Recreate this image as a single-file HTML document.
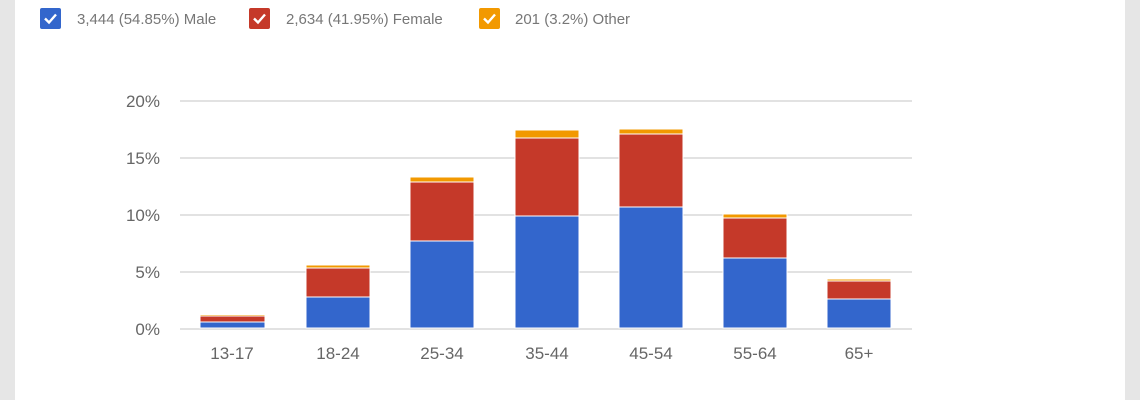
<!DOCTYPE html>
<html><head><style>
body{margin:0;width:1140px;height:400px;overflow:hidden;background:#fff;font-family:"Liberation Sans",sans-serif}
</style></head><body>
<svg width="1140" height="400" xmlns="http://www.w3.org/2000/svg" font-family="Liberation Sans, sans-serif">
<rect x="0" y="0" width="15" height="400" fill="#e6e6e6"/>
<rect x="1125" y="0" width="15" height="400" fill="#e6e6e6"/>
<g font-size="15" fill="#777">
<rect x="40" y="8" width="21" height="21" rx="2" fill="#3366cc"/>
<path d="M45 18.5l4 4 7-8" stroke="#fff" stroke-width="2.4" fill="none"/>
<text x="77" y="24">3,444 (54.85%) Male</text>
<rect x="249" y="8" width="21" height="21" rx="2" fill="#c53929"/>
<path d="M254 18.5l4 4 7-8" stroke="#fff" stroke-width="2.4" fill="none"/>
<text x="286" y="24">2,634 (41.95%) Female</text>
<rect x="479" y="8" width="21" height="21" rx="2" fill="#f29900"/>
<path d="M484 18.5l4 4 7-8" stroke="#fff" stroke-width="2.4" fill="none"/>
<text x="515" y="24">201 (3.2%) Other</text>
</g>
<g stroke="#d9d9d9" stroke-width="1.5">
<line x1="180" x2="912" y1="101" y2="101"/>
<line x1="180" x2="912" y1="158" y2="158"/>
<line x1="180" x2="912" y1="215" y2="215"/>
<line x1="180" x2="912" y1="272" y2="272"/>
<line x1="180" x2="912" y1="329" y2="329"/>
</g>
<g font-size="17" fill="#666" text-anchor="end">
<text x="160" y="107">20%</text><text x="160" y="164">15%</text><text x="160" y="221">10%</text><text x="160" y="278">5%</text><text x="160" y="335">0%</text>
</g>
<g stroke="#fff" stroke-width="1">
<!-- x, blueTop, redTop, orangeTop -->
<rect x="200" y="322" width="65" height="6" fill="#3366cc"/><rect x="200" y="316" width="65" height="6" fill="#c53929"/><rect x="200" y="314.5" width="65" height="1.5" fill="#f29900"/>
<rect x="306" y="297" width="64" height="31" fill="#3366cc"/><rect x="306" y="268" width="64" height="29" fill="#c53929"/><rect x="306" y="265" width="64" height="3" fill="#f29900"/>
<rect x="410" y="241" width="64" height="87" fill="#3366cc"/><rect x="410" y="182" width="64" height="59" fill="#c53929"/><rect x="410" y="177" width="64" height="5" fill="#f29900"/>
<rect x="515" y="216" width="64" height="112" fill="#3366cc"/><rect x="515" y="138" width="64" height="78" fill="#c53929"/><rect x="515" y="130" width="64" height="8" fill="#f29900"/>
<rect x="619" y="207" width="64" height="121" fill="#3366cc"/><rect x="619" y="134" width="64" height="73" fill="#c53929"/><rect x="619" y="129" width="64" height="5" fill="#f29900"/>
<rect x="723" y="258" width="64" height="70" fill="#3366cc"/><rect x="723" y="218" width="64" height="40" fill="#c53929"/><rect x="723" y="214" width="64" height="4" fill="#f29900"/>
<rect x="827" y="299" width="64" height="29" fill="#3366cc"/><rect x="827" y="281" width="64" height="18" fill="#c53929"/><rect x="827" y="279" width="64" height="2" fill="#f29900"/>
</g>
<g font-size="17" fill="#666" text-anchor="middle">
<text x="232" y="359">13-17</text><text x="338" y="359">18-24</text><text x="442" y="359">25-34</text><text x="547" y="359">35-44</text><text x="651" y="359">45-54</text><text x="755" y="359">55-64</text><text x="859" y="359">65+</text>
</g>
</svg>
</body></html>
